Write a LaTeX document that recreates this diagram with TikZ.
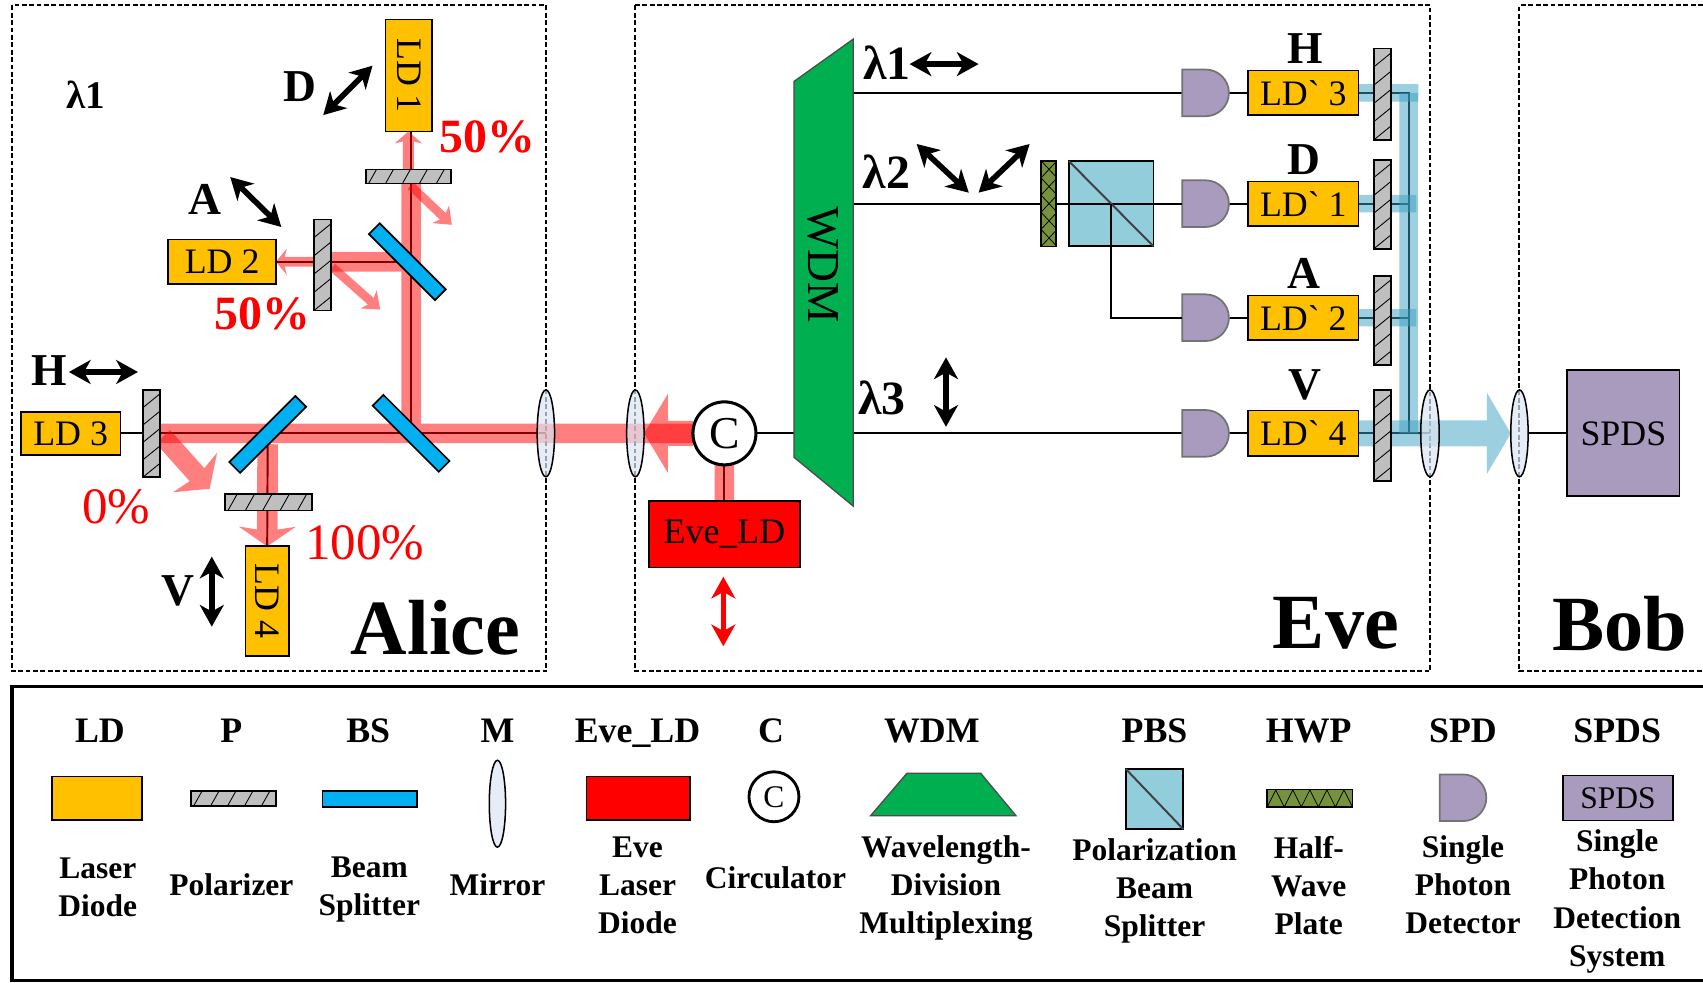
\documentclass[tikz,border=0pt]{standalone}
\usepackage{fontspec}
\setmainfont{Liberation Serif}[Ligatures=TeXOff]
\usetikzlibrary{calc,arrows.meta,shapes.geometric,shapes.misc}
\pgfdeclarelayer{bg}
\pgfdeclarelayer{beams}
\pgfsetlayers{bg,beams,main}
\definecolor{ldc}{HTML}{FFC000}
\definecolor{bsc}{HTML}{00B0F0}
\definecolor{polc}{HTML}{BFBFBF}
\definecolor{wdmc}{HTML}{00B050}
\definecolor{pbsc}{HTML}{92CDDC}
\definecolor{hwpc}{HTML}{76923C}
\definecolor{spdc}{HTML}{A99BBE}
\definecolor{mirc}{HTML}{DCE6F2}
\definecolor{bluebeam}{HTML}{3A9FBF}
\tikzset{
  sz/.style 2 args={minimum width=#1*0.5pt,minimum height=#2*0.5pt,inner sep=0pt,outer sep=0pt},
  box/.style={draw,line width=.8pt,font=\fontsize{16.5}{18}\selectfont},
  ldbox/.style={box,fill=ldc},
  bsbox/.style={draw,line width=.8pt,fill=bsc},
  polh/.style={draw,line width=.8pt,fill=polc,path picture={\foreach \t in {0.03,0.23,0.43,0.63,0.83}{\draw[line width=.4pt] ($(path picture bounding box.south west)!\t!(path picture bounding box.south east)$) -- ++(9,-16);}}},
  polv/.style={draw,line width=.8pt,fill=polc,path picture={\foreach \t in {0.0,0.2,0.4,0.6,0.8}{\draw[line width=.4pt] ($(path picture bounding box.south west)!\t!(path picture bounding box.north west)$) -- ++(16,-13);}}},
  hwpv/.style={draw,line width=.8pt,fill=hwpc,path picture={\foreach \t in {0.0,0.2,0.4,0.6,0.8,1.0}{\draw[line width=.35pt] ($(path picture bounding box.south west)!\t!(path picture bounding box.north west)$) -- ++(14,-15) ++(-14,15) -- ++(14,15);}}},
  hwph/.style={draw,line width=.8pt,fill=hwpc,path picture={\foreach \t in {0.0,0.2,0.4,0.6,0.8,1.0}{\draw[line width=.35pt] ($(path picture bounding box.south west)!\t!(path picture bounding box.south east)$) -- ++(8,-16) ++(-8,16) -- ++(-8,-16);}}},
  mirror/.style={ellipse,draw,line width=.7pt,fill=mirc,fill opacity=.7,text opacity=1,minimum width=8pt,minimum height=40pt,inner sep=0pt,outer sep=0pt},
  spd/.style={rounded rectangle,rounded rectangle west arc=none,draw=black!55,line width=.8pt,fill=spdc,minimum width=21pt,minimum height=21.5pt,inner sep=0pt,outer sep=0pt},
  circ/.style={circle,draw,line width=1.4pt,fill=white,inner sep=0pt,outer sep=0pt},
  conn/.style={line width=.9pt},
  frame/.style={line width=.9pt,dash pattern=on 2.2pt off 1.2pt},
  tg/.style={transparency group,opacity=.5},
  beam/.style={draw=red,line width=9pt},
  thinbeam/.style={draw=red,fill=red,line width=#1*0.5pt},
  bbeam/.style={draw=bluebeam,fill=bluebeam,line width=#1*0.5pt},
  dbl/.style={line width=2.6pt,{Stealth[length=10pt,width=11pt,inset=3pt]}-{Stealth[length=10pt,width=11pt,inset=3pt]}},
  lab/.style={font=\fontsize{21}{22}\selectfont\bfseries},
  lam/.style={font=\fontsize{22}{24}\selectfont\bfseries},
  pct/.style={text=red,font=\fontsize{23.5}{25}\selectfont},
  pctb/.style={text=red,font=\fontsize{22}{24}\selectfont\bfseries},
  who/.style={font=\fontsize{36}{38}\selectfont\bfseries},
  ttl/.style={anchor=base,font=\fontsize{16.5}{18}\selectfont\bfseries},
  dsc/.style={align=center,font=\fontsize{14.5}{17.5}\selectfont\bfseries},
}
\begin{document}
\begin{tikzpicture}[x=0.5pt,y=-0.5pt]
\useasboundingbox (0,0) rectangle (1568,905);
% ---------- Alice components
\node[ldbox,sz={103}{43},rotate=-90] (LD1) at (376.5,69.5) {LD 1};
\node[ldbox,sz={99}{41}] (LD2) at (204.5,241) {LD 2};
\node[ldbox,sz={92}{40}] (LD3) at (65,399) {LD 3};
\node[ldbox,sz={101}{40},rotate=-90] (LD4) at (246,553.5) {LD 4};
\node[polh,sz={78}{13}] (polT) at (376,162.5) {};
\node[polv,sz={15.5}{84}] (polL) at (296.75,244) {};
\node[polv,sz={15.5}{80}] (polS) at (139.75,399) {};
\node[polh,sz={80}{15}] (polB) at (247.5,462.5) {};
\node[bsbox,sz={86}{14},rotate=-45] (bsU) at (375,241) {};
\node[bsbox,sz={86}{14},rotate=-45] (bsR) at (378.5,399) {};
\node[bsbox,sz={86}{14},rotate=45] (bsL) at (246.5,400) {};
\node[mirror] (m1) at (502.6,399) {};
\node[mirror] (m2) at (585,399) {};
% ---------- Eve components
\node[circ,minimum size=29pt,font=\fontsize{21}{22}\selectfont] (cir) at (667,399) {C};
\node[box,fill=red,sz={139}{61}] (eveld) at (667,492) {Eve\_LD};
\filldraw[fill=wdmc,draw=black!70,line width=.6pt] (731,75) -- (785.6,36) -- (785.6,466) -- (731,421) -- cycle;
\node[rotate=-90,font=\fontsize{21}{22}\selectfont,inner sep=0pt] (wdmtext) at (758,244) {WDM};
\coordinate (wdmA) at (785.6,85.5);
\coordinate (wdmB) at (785.6,187.5);
\coordinate (wdmC) at (785.6,399);
\coordinate (wdmL) at (731,399);
\node[hwpv,sz={14}{79}] (hwp) at (965.5,187.5) {};
\node[box,fill=pbsc,sz={78}{78.5}] (pbs) at (1023,187.5) {};
\node[spd] (spdA) at (1110,85.5) {};
\node[spd] (spdB) at (1110,187.5) {};
\node[spd] (spdC) at (1110,292.5) {};
\node[spd] (spdD) at (1110,399) {};
\node[ldbox,sz={101.5}{41}] (lpA) at (1200,85.5) {LD` 3};
\node[ldbox,sz={101.5}{41}] (lpB) at (1200,187.5) {LD` 1};
\node[ldbox,sz={101.5}{41}] (lpC) at (1200,292.5) {LD` 2};
\node[ldbox,sz={101.5}{42}] (lpD) at (1200,399) {LD` 4};
\node[polv,sz={15.5}{84}] (prA) at (1272.75,86.75) {};
\node[polv,sz={15.5}{82}] (prB) at (1272.75,188) {};
\node[polv,sz={15.5}{82}] (prC) at (1272.75,295) {};
\node[polv,sz={15.5}{84}] (prD) at (1272.75,401) {};
\coordinate (jA) at (1297,85.5);
\coordinate (jB) at (1297,187.5);
\coordinate (jC) at (1297,292.5);
\coordinate (jD) at (1297,399);
\coordinate (jAe) at (1306,85.5);
\coordinate (jBe) at (1304,187.5);
\coordinate (jCe) at (1304,292.5);
\node[mirror,minimum width=8.5pt] (m3) at (1316.6,399) {};
\node[mirror] (m4) at (1399,399) {};
% ---------- Bob
\node[box,fill=spdc,sz={103.5}{116}] (spds) at (1494.7,399) {SPDS};
% ---------- frames, thin connectors
\begin{pgfonlayer}{bg}
\draw[frame] (11,5) rectangle (503,618);
\draw[frame] (585,5) rectangle (1317,618);
\draw[frame] (1568,5) -- (1399,5) -- (1399,618) -- (1568,618);
\draw[conn] (LD3.east) -- (polS.west);
\draw[conn] (polS.east) -- (m1.center);
\draw[conn] (bsR.center |- polS.east) -- (bsR.center |- LD1.east);
\draw[conn] (bsU.center) -- (bsU.center -| LD2.east);
\draw[conn] (bsL.center) -- (LD4.west);
\draw[conn] (cir.south) -- (eveld.north);
\draw[conn] (cir.east) -- (wdmL);
\draw[conn] (wdmA) -- (spdA.west);
\draw[conn] (wdmB) -- (hwp.west);
\draw[conn] (wdmC) -- (spdD.west);
\draw[conn] (spdA.east) -- (lpA.west);
\draw[conn] (spdB.east) -- (lpB.west);
\draw[conn] (spdC.east) -- (lpC.west);
\draw[conn] (spdD.east) -- (lpD.west);
\draw[conn] (lpA.east) -- (jA) -- (jD) -- (m3.center);
\draw[conn] (lpD.east) -- (jD);
\draw[conn] (lpB.east) -- (jB);
\draw[conn] (lpC.east) -- (jC);
\draw[conn] (m4.east) -- (spds.west);
\end{pgfonlayer}
% ---------- beams
\coordinate (tipT) at (416,207);
\coordinate (tipL) at (350,285);
\coordinate (tipS) at (193,450);
\coordinate (startT) at (378,171);
\coordinate (startL) at (306,246);
\coordinate (startS) at (150,402);
\begin{pgfonlayer}{beams}
\begin{scope}[tg]
\draw[beam] (polS.east) -- (cir.west) (bsR.center |- polS.east) -- (bsR.center |- polT.south) (bsU.center) -- (polL.east |- bsU.center);
\end{scope}
\begin{scope}[tg]\draw[thinbeam=10,-{Stealth[length=5.5pt,width=12.5pt,inset=1.5pt]}] (polT.north) -- (polT.north |- LD1.east);\end{scope}
\begin{scope}[tg]\draw[thinbeam=9,-{Stealth[length=5pt,width=12pt,inset=1.5pt]}] (polL.west |- bsU.center) -- (LD2.east |- bsU.center);\end{scope}
\begin{scope}[tg]\draw[thinbeam=19,shorten <=4.5pt,-{Stealth[length=9pt,width=26pt,inset=2pt]}] (bsL.center) -- (LD4.west);\end{scope}
\begin{scope}[tg]\draw[thinbeam=18] (cir.south) -- (eveld.north);\end{scope}
\begin{scope}[tg]\draw[thinbeam=8,-{Stealth[length=7pt,width=11pt,inset=2pt]}] (startT) -- (tipT);\end{scope}
\begin{scope}[tg]\draw[thinbeam=8,-{Stealth[length=7pt,width=11pt,inset=2pt]}] (startL) -- (tipL);\end{scope}
\begin{scope}[tg]\draw[thinbeam=18,-{Stealth[length=10pt,width=27pt,inset=2pt]}] (startS) -- (tipS);\end{scope}
\begin{scope}[tg]\draw[thinbeam=23,-{Triangle[length=11pt,width=36pt]}] (cir.west) -- (m2.east);\end{scope}
\begin{scope}[tg]\draw[bbeam=16] (lpA.east) -- (jAe);\end{scope}
\begin{scope}[tg]\draw[bbeam=17] (jA) -- (jD);\end{scope}
\begin{scope}[tg]\draw[bbeam=16] (lpB.east) -- (jBe);\end{scope}
\begin{scope}[tg]\draw[bbeam=16] (lpC.east) -- (jCe);\end{scope}
\begin{scope}[tg]\draw[bbeam=24,-{Triangle[length=11pt,width=37pt]}] (lpD.east) -- (m4.west);\end{scope}
\end{pgfonlayer}
% ---------- PBS inner lines
\draw[conn] (hwp.east) -- (pbs.west);
\draw[conn] (pbs.west) -- (pbs.east) -- (spdB.west);
\draw[conn,black!75] (pbs.north west) -- (pbs.south east);
\draw[conn] (pbs.center) |- (spdC.west);
% ---------- polarisation arrows
\coordinate (arDa) at (297.6,106);  \coordinate (arDb) at (343,60.5);
\coordinate (arAa) at (212,163);    \coordinate (arAb) at (259,209);
\coordinate (arHa) at (63.4,342.5); \coordinate (arHb) at (127,342.5);
\coordinate (arVa) at (195,512.5);  \coordinate (arVb) at (195,577);
\coordinate (arEa) at (666,531);    \coordinate (arEb) at (666,595);
\coordinate (ar1a) at (837.5,59);   \coordinate (ar1b) at (901,59);
\coordinate (ar2a) at (844,132.6);  \coordinate (ar2b) at (892,177.4);
\coordinate (ar3a) at (948,132.6);  \coordinate (ar3b) at (901,177.4);
\coordinate (ar4a) at (871,329);    \coordinate (ar4b) at (871,393);
\draw[dbl] (arDa) -- (arDb);
\draw[dbl] (arAa) -- (arAb);
\draw[dbl] (arHa) -- (arHb);
\draw[dbl] (arVa) -- (arVb);
\draw[dbl,red] (arEa) -- (arEb);
\draw[dbl] (ar1a) -- (ar1b);
\draw[dbl] (ar2a) -- (ar2b);
\draw[dbl] (ar3a) -- (ar3b);
\draw[dbl] (ar4a) -- (ar4b);
% ---------- labels
\node[font=\fontsize{18}{20}\selectfont\bfseries] (l1) at (79,87.5) {λ1};
\node[lab] (tD) at (276,80) {D};
\node[lab] (tA) at (189,184) {A};
\node[lab] (tH) at (45.6,341) {H};
\node[lab] (tV) at (164,544) {V};
\node[pctb] (p1) at (448.5,126) {50\%};
\node[pctb] (p2) at (241.5,289) {50\%};
\node[pct] (p3) at (107,467) {0\%};
\node[pct] (p4) at (336,500) {100\%};
\node[who] (alice) at (401,578) {Alice};
\node[who] (eve) at (1230,574) {Eve};
\node[who] (bob) at (1491,574) {Bob};
\node[lam] (w1) at (816.5,58) {λ1};
\node[lam] (w2) at (816,158) {λ2};
\node[lam] (w3) at (812,366) {λ3};
\node[lab] (tH2) at (1202,44.5) {H};
\node[lab] (tD2) at (1201,147) {D};
\node[lab] (tA2) at (1201,252) {A};
\node[lab] (tV2) at (1201.5,354) {V};
% ---------- legend
\draw[line width=1.5pt] (1568,632) -- (11,632) -- (11,903) -- (1568,903);
\node[ttl] (t1) at (92,684) {LD};
\node[ttl] (t2) at (213,684) {P};
\node[ttl] (t3) at (339,684) {BS};
\node[ttl] (t4) at (458,684) {M};
\node[ttl] (t5) at (587,684) {Eve\_LD};
\node[ttl] (t6) at (710,684) {C};
\node[ttl] (t7) at (858,684) {WDM};
\node[ttl] (t8) at (1063,684) {PBS};
\node[ttl] (t9) at (1205,684) {HWP};
\node[ttl] (t10) at (1347,684) {SPD};
\node[ttl] (t11) at (1489,684) {SPDS};
\node[ldbox,sz={83}{40}] (s1) at (89.5,735) {};
\node[polh,sz={78}{14}] (s2) at (215,735) {};
\node[bsbox,sz={87}{15}] (s3) at (340.5,735.5) {};
\node[mirror,minimum width=7.5pt] (s4) at (458,740) {};
\node[box,fill=red,sz={95}{40}] (s5) at (587.5,735) {};
\node[circ,line width=1.3pt,minimum size=23pt,font=\fontsize{14.5}{16}\selectfont] (s6) at (712.6,733.6) {C};
\filldraw[fill=wdmc,draw=black!70,line width=.6pt] (835,712) -- (903,712) -- (935.4,751) -- (801.6,751) -- cycle;
\node[box,fill=pbsc,sz={53}{55.5}] (s8) at (1063,735.7) {};
\draw[conn,black!75] (s8.north west) -- (s8.south east);
\node[hwph,sz={78.5}{16}] (s9) at (1206,735) {};
\node[spd] (s10) at (1347,734.5) {};
\node[box,fill=spdc,sz={101.5}{41.5},font=\fontsize{14.5}{16}\selectfont] (s11) at (1489.8,734.7) {SPDS};
\node[dsc] (d1) at (90,817) {Laser\\Diode};
\node[dsc] (d2) at (213,815) {Polarizer};
\node[dsc] (d3) at (340,819) {Beam\\Splitter};
\node[dsc] (d4) at (458,815) {Mirror};
\node[dsc] (d5) at (587,815) {Eve\\Laser\\Diode};
\node[dsc] (d6) at (714,808) {Circulator};
\node[dsc] (d7) at (871,817.5) {Wavelength-\\Division\\Multiplexing};
\node[dsc] (d8) at (1063,820.5) {Polarization\\Beam\\Splitter};
\node[dsc] (d9) at (1205,815.5) {Half-\\Wave\\Plate};
\node[dsc] (d10) at (1347,814.5) {Single\\Photon\\Detector};
\node[dsc] (d11) at (1489,830) {Single\\Photon\\Detection\\System};
\end{tikzpicture}
\end{document}
